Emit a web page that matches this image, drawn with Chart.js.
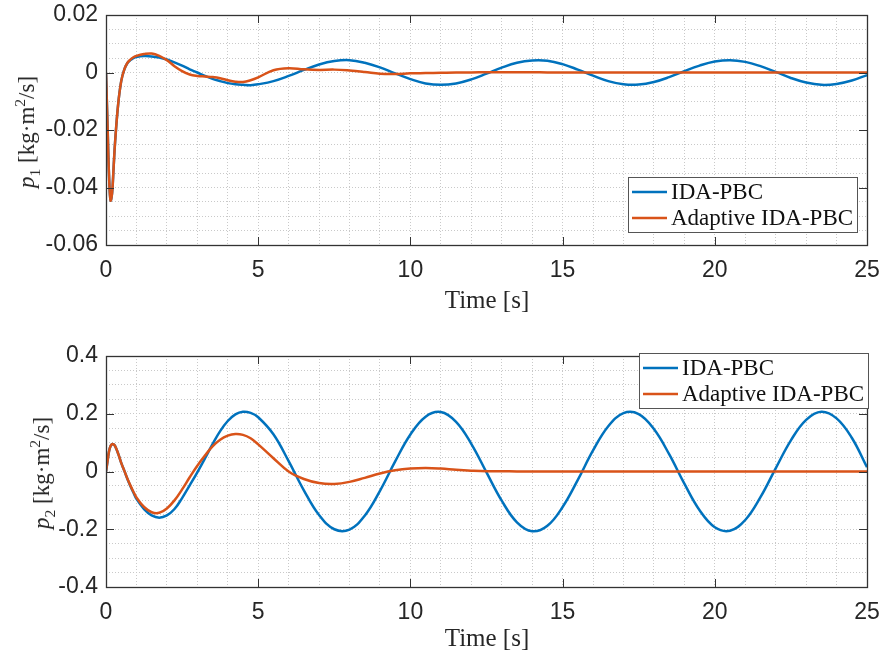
<!DOCTYPE html>
<html>
<head>
<meta charset="utf-8">
<script src="https://cdn.jsdelivr.net/npm/chart.js@4.4.1/dist/chart.umd.min.js"></script>
<style>
  body { margin: 0; background: #fff; width: 885px; height: 657px; position: relative; overflow: hidden; }
  canvas { position: absolute; left: 0; }
  .lbl { position: absolute; font-family: "Liberation Serif", serif; color: #262626; white-space: nowrap; }
  .ylbl { transform: translate(-50%, -50%) rotate(-90deg); font-size: 23px; }
  .xlbl { transform: translate(-50%, -50%); font-size: 25px; }
  sub, sup { font-size: 0.68em; line-height: 0; }
</style>
</head>
<body>
<canvas id="top" width="885" height="328" style="top:0"></canvas>
<canvas id="bottom" width="885" height="329" style="top:328px"></canvas>

<div class="lbl ylbl" style="left:27px; top:132px"><i>p</i><sub>1</sub> [kg·m<sup>2</sup>/s]</div>
<div class="lbl xlbl" style="left:487px; top:300px">Time [s]</div>
<div class="lbl ylbl" style="left:42px; top:473px"><i>p</i><sub>2</sub> [kg·m<sup>2</sup>/s]</div>
<div class="lbl xlbl" style="left:487px; top:638px">Time [s]</div>

<script>
const seriesNames = ["IDA-PBC", "Adaptive IDA-PBC"];
const colors = ["#0072BD", "#D95319"];

const time = [0, 0.05, 0.1, 0.15, 0.2, 0.25, 0.3, 0.4, 0.5, 0.6, 0.7, 0.8, 0.9,
  1, 1.25, 1.5, 1.75, 2, 2.25, 2.5, 2.75, 3, 3.25, 3.5, 3.75, 4, 4.25, 4.5, 4.75, 5,
  5.5, 6, 6.5, 7, 7.5, 8, 8.5, 9, 9.5, 10, 10.5, 11, 11.5, 12, 12.5, 13, 13.5, 14, 14.5, 15,
  15.5, 16, 16.5, 17, 17.5, 18, 18.5, 19, 19.5, 20, 20.5, 21, 21.5, 22, 22.5, 23, 23.5, 24, 24.5, 25];

// p1, IDA-PBC
const p1Ida = [0, -0.018, -0.036, -0.0445, -0.042, -0.033, -0.024, -0.011, -0.003, 0.001, 0.0032, 0.0043, 0.005,
  0.0054, 0.0057, 0.0056, 0.0052, 0.0045, 0.0035, 0.0024, 0.0011, 0.0, -0.0012, -0.0022, -0.003, -0.0037, -0.0041, -0.0043, -0.0044, -0.0041,
  -0.0030, -0.0012, 0.0009, 0.0028, 0.0040, 0.0043, 0.0034, 0.0018, -0.0003, -0.0023, -0.0038, -0.0043, -0.0038, -0.0024, -0.0004, 0.0017, 0.0034, 0.0042, 0.0041, 0.0029,
  0.0010, -0.0011, -0.0030, -0.0041, -0.0042, -0.0033, -0.0016, 0.0005, 0.0024, 0.0038, 0.0043, 0.0037, 0.0022, 0.0002, -0.0019, -0.0035, -0.0043, -0.0040, -0.0028, -0.0009];

// p1, Adaptive IDA-PBC
const p1Adapt = [0, -0.018, -0.036, -0.0445, -0.042, -0.033, -0.024, -0.011, -0.003, 0.001, 0.0033, 0.0045, 0.0053,
  0.0058, 0.0064, 0.0066, 0.0058, 0.0043, 0.0022, 0.0005, -0.0007, -0.0012, -0.0014, -0.0016, -0.002, -0.0027, -0.0032, -0.0033, -0.0027, -0.0017,
  0.0008, 0.0015, 0.0011, 0.0009, 0.0010, 0.0007, 0.0002, -0.0004, -0.0005, -0.0003, -0.0002, -0.0001, 0, 0, 0.0001, 0.0001, 0.0001, 0.0001, 0, 0,
  0, 0, 0, 0, 0, 0, 0, 0, 0, 0, 0, 0, 0, 0, 0, 0, 0, 0, 0, 0];

// p2, IDA-PBC
const p2Ida = [0, 0.035, 0.07, 0.088, 0.095, 0.094, 0.088, 0.062, 0.03, 0.003, -0.025, -0.05, -0.073,
  -0.095, -0.13, -0.152, -0.16, -0.152, -0.13, -0.092, -0.048, -0.003, 0.045, 0.095, 0.14, 0.175, 0.198, 0.207, 0.203, 0.188,
  0.129, 0.036, -0.065, -0.151, -0.200, -0.201, -0.153, -0.067, 0.035, 0.128, 0.190, 0.206, 0.172, 0.096, -0.003, -0.101, -0.176, -0.207, -0.188, -0.123,
  -0.029, 0.073, 0.157, 0.202, 0.199, 0.147, 0.060, -0.042, -0.134, -0.193, -0.205, -0.168, -0.089, 0.011, 0.108, 0.179, 0.207, 0.184, 0.117, 0.015];

// p2, Adaptive IDA-PBC
const p2Adapt = [0, 0.035, 0.07, 0.088, 0.095, 0.094, 0.088, 0.062, 0.03, 0.003, -0.024, -0.048, -0.07,
  -0.09, -0.123, -0.141, -0.143, -0.128, -0.1, -0.062, -0.02, 0.02, 0.055, 0.087, 0.11, 0.124, 0.13, 0.127, 0.115, 0.094,
  0.046, 0.0, -0.026, -0.04, -0.043, -0.036, -0.022, -0.007, 0.004, 0.010, 0.012, 0.010, 0.006, 0.003, 0.001, 0.001, 0, 0, 0, 0,
  0, 0, 0, 0, 0, 0, 0, 0, 0, 0, 0, 0, 0, 0, 0, 0, 0, 0, 0, 0];

const xMajor = [0, 5, 10, 15, 20, 25];
const p1Major = [-0.06, -0.04, -0.02, 0, 0.02];
const p2Major = [-0.4, -0.2, 0, 0.2, 0.4];

const toPoints = ys => time.map((x, i) => ({ x, y: ys[i] }));
const isMajor = (v, list) => list.some(m => Math.abs(v - m) < 1e-9);

// box + inward tick marks like matlab
const axesBox = {
  id: 'axesBox',
  afterDatasetsDraw(chart, args, opts) {
    const { ctx, chartArea: a, scales } = chart;
    ctx.save();
    ctx.strokeStyle = '#333';
    ctx.lineWidth = 1;
    ctx.beginPath();
    xMajor.forEach(v => {
      const x = Math.round(scales.x.getPixelForValue(v)) + 0.5;
      ctx.moveTo(x, a.bottom); ctx.lineTo(x, a.bottom - 8);
      ctx.moveTo(x, a.top); ctx.lineTo(x, a.top + 8);
    });
    opts.yMajor.forEach(v => {
      const y = Math.round(scales.y.getPixelForValue(v)) + 0.5;
      ctx.moveTo(a.left, y); ctx.lineTo(a.left + 8, y);
      ctx.moveTo(a.right, y); ctx.lineTo(a.right - 8, y);
    });
    ctx.stroke();
    ctx.lineWidth = 1.3;
    ctx.strokeRect(Math.round(a.left) + 0.5, Math.round(a.top) + 0.5, Math.round(a.width), Math.round(a.height));
    ctx.restore();
  }
};

const boxLegend = {
  id: 'boxLegend',
  afterDraw(chart, args, o) {
    const { ctx, chartArea: a } = chart;
    const x0 = a.right - o.right - o.width;
    const y0 = o.top != null ? a.top + o.top : a.bottom - o.bottom - o.height;
    ctx.save();
    ctx.fillStyle = '#fff';
    ctx.fillRect(x0, y0, o.width, o.height);
    ctx.strokeStyle = '#555';
    ctx.lineWidth = 1;
    ctx.strokeRect(Math.round(x0) + 0.5, Math.round(y0) + 0.5, o.width, o.height);
    ctx.font = '23px "Liberation Serif"';
    ctx.textBaseline = 'middle';
    chart.data.datasets.forEach((ds, i) => {
      const y = y0 + 15 + i * 26;
      ctx.strokeStyle = ds.borderColor;
      ctx.lineWidth = 2.5;
      ctx.beginPath(); ctx.moveTo(x0 + 4, y); ctx.lineTo(x0 + 39, y); ctx.stroke();
      ctx.fillStyle = '#111';
      ctx.fillText(ds.label, x0 + 43, y + 1);
    });
    ctx.restore();
  }
};

function makeChart(id, a, b, yMin, yMax, yStep, yMajor, digits, padTop, xHeight, legend) {
  return new Chart(document.getElementById(id), {
    type: 'line',
    data: {
      datasets: [
        { label: seriesNames[0], data: toPoints(a), borderColor: colors[0], order: 1 },
        { label: seriesNames[1], data: toPoints(b), borderColor: colors[1], order: 0 }
      ]
    },
    options: {
      responsive: false,
      animation: false,
      devicePixelRatio: 1,
      layout: { padding: { top: padTop, right: 18, left: 0, bottom: 0 } },
      elements: {
        point: { radius: 0 },
        line: { borderWidth: 2.5, tension: 0.4, fill: false }
      },
      plugins: {
        legend: { display: false },
        tooltip: { enabled: false },
        axesBox: { yMajor },
        boxLegend: legend
      },
      scales: {
        x: {
          type: 'linear', min: 0, max: 25,
          afterFit: s => { s.height = xHeight; s.paddingLeft = 0; s.paddingRight = 0; },
          grid: { color: '#c9c9c9', lineWidth: 1, drawTicks: false },
          border: { display: false, dash: [1, 2] },
          ticks: {
            stepSize: 1, autoSkip: false, maxRotation: 0, padding: 12,
            color: '#262626', font: { family: 'Liberation Sans', size: 23 },
            callback: v => isMajor(v, xMajor) ? String(v) : ''
          }
        },
        y: {
          min: yMin, max: yMax,
          afterFit: s => { s.width = 106; s.paddingTop = 0; s.paddingBottom = 0; },
          grid: { color: '#c9c9c9', lineWidth: 1, drawTicks: false },
          border: { display: false, dash: [1, 2] },
          ticks: {
            stepSize: yStep, autoSkip: false, padding: 8,
            color: '#262626', font: { family: 'Liberation Sans', size: 23 },
            callback: v => isMajor(v, yMajor) ? (Math.abs(v) < 1e-9 ? '0' : v.toFixed(digits)) : ''
          }
        }
      }
    },
    plugins: [axesBox, boxLegend]
  });
}

makeChart('top', p1Ida, p1Adapt, -0.06, 0.02, 0.005, p1Major, 2, 15, 83,
  { width: 229, height: 55, right: 10, bottom: 13 });
makeChart('bottom', p2Ida, p2Adapt, -0.4, 0.4, 0.05, p2Major, 1, 28, 70,
  { width: 229, height: 55, right: -1, top: -3 });
</script>
</body>
</html>
